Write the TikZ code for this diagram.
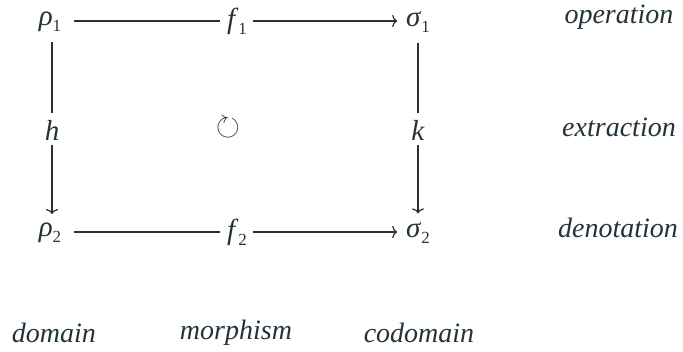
\documentclass[tikz,border=0pt]{standalone}
\usepackage{amssymb}
\usepackage{fontspec}
\setmainfont{Liberation Serif}
\usetikzlibrary{arrows.meta}
\definecolor{ink}{HTML}{24333A}
% italic letters taken from the text font, with small upright subscripts
\newcommand{\mvar}[2]{\textit{#1}\raisebox{-0.22em}{\fontsize{17}{20}\selectfont #2}}
\tikzset{
  obj/.style={text=ink, inner sep=0pt, outer sep=0pt, font=\fontsize{29}{34}\selectfont},
  lbl/.style={text=ink, inner sep=0pt, font=\fontsize{28}{33}\selectfont\itshape},
  conn/.style={draw=ink, line width=1.2pt},
  arr/.style={conn, -{To[length=5pt,width=12pt]}}
}
\begin{document}
\begin{tikzpicture}[x=1pt,y=-1pt]
\useasboundingbox (0,0) rectangle (683,351);
% objects of the square
\node[obj] (r1) at (50,22) {\mvar{ρ}{1}};
\node[obj] (f1) at (237,21) {\mvar{f}{1}};
\node[obj] (s1) at (418,22) {\mvar{σ}{1}};
\node[obj] (h) at (52,130) {\textit{h}};
\node[obj,font=\fontsize{31}{36}\selectfont] (cm) at (228,128) {$\circlearrowright$};
\node[obj] (k) at (418,130) {\textit{k}};
\node[obj] (r2) at (50,233) {\mvar{ρ}{2}};
\node[obj] (f2) at (237,232) {\mvar{f}{2}};
\node[obj] (s2) at (418,233) {\mvar{σ}{2}};
% row and column captions
\node[lbl] (op) at (619,17) {operation};
\node[lbl] (ex) at (619,127) {extraction};
\node[lbl] (de) at (618,228) {denotation};
\node[lbl] (dom) at (54,333) {domain};
\node[lbl] (mor) at (236,333) {morphism};
\node[lbl] (cod) at (419,333) {codomain};
% arrows, each split by its label
\draw[conn] ([xshift=13pt]r1.east |- 0,21) -- ([xshift=-7pt]f1.west |- 0,21);
\draw[arr] ([xshift=6pt]f1.east |- 0,21) -- ([xshift=-9pt]s1.west |- 0,21);
\draw[conn] ([xshift=13pt]r2.east |- 0,232) -- ([xshift=-7pt]f2.west |- 0,232);
\draw[arr] ([xshift=6pt]f2.east |- 0,232) -- ([xshift=-9pt]s2.west |- 0,232);
\draw[conn] ([yshift=-10pt]r1.south -| 52,0) -- ([yshift=7pt]h.north);
\draw[arr] ([yshift=-5pt]h.south) -- ([yshift=9pt]r2.north -| 52,0);
\draw[conn] ([yshift=-10pt]s1.south -| 418,0) -- ([yshift=7pt]k.north);
\draw[arr] ([yshift=-5pt]k.south) -- ([yshift=9pt]s2.north -| 418,0);
\end{tikzpicture}
\end{document}
